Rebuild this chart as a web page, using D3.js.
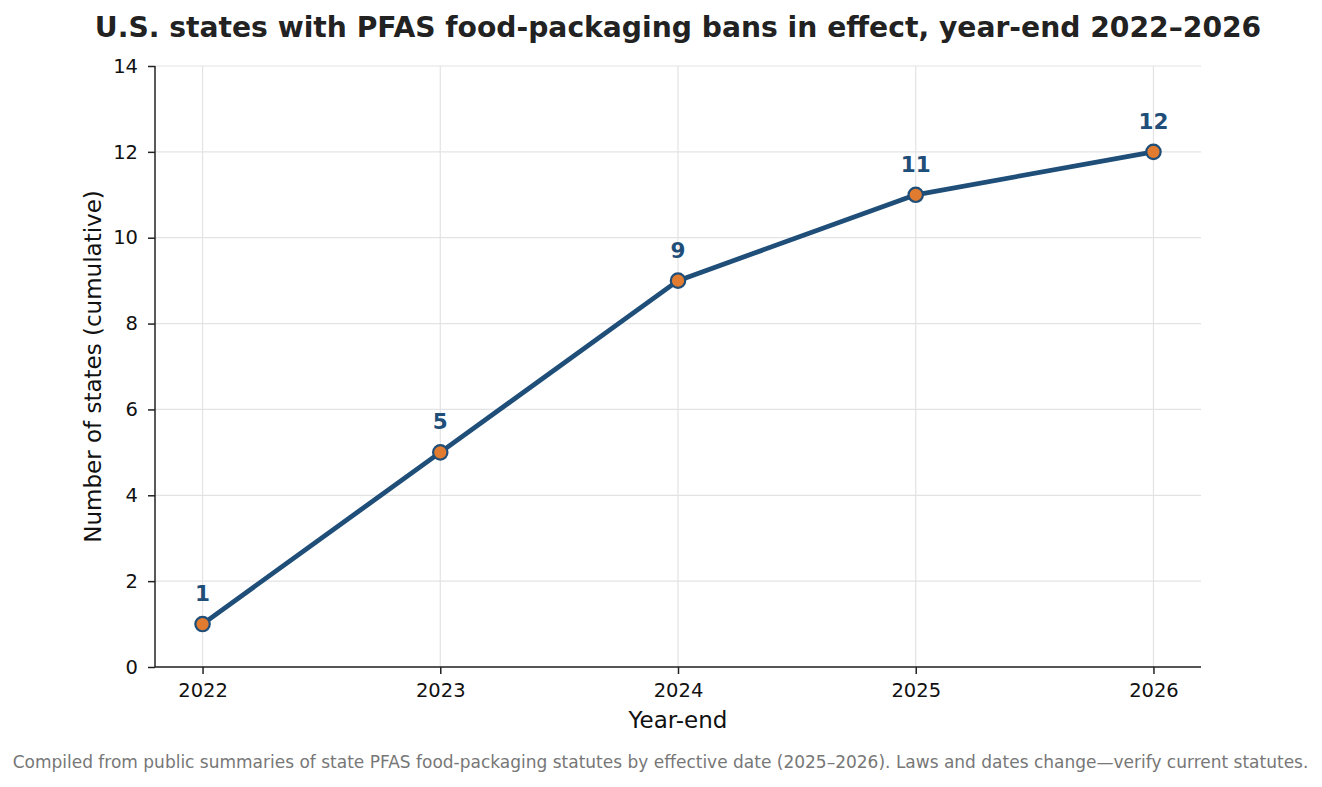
<!DOCTYPE html>
<html>
<head>
<meta charset="utf-8">
<script src="https://cdn.jsdelivr.net/npm/d3@7"></script>
<style>
  body { margin: 0; background: #fff; font-family: "DejaVu Sans", sans-serif; }
</style>
</head>
<body>
<div id="chart"></div>
<script>
// data
const years = [2022, 2023, 2024, 2025, 2026];
const statesCount = [1, 5, 9, 11, 12];
const yTicks = [0, 2, 4, 6, 8, 10, 12, 14];

const titleText = "U.S. states with PFAS food-packaging bans in effect, year-end 2022\u20132026";
const xLabel = "Year-end";
const yLabel = "Number of states (cumulative)";
const caption = "Compiled from public summaries of state PFAS food-packaging statutes by effective date (2025\u20132026). Laws and dates change\u2014verify current statutes.";

const W = 1322, H = 787;
const margin = { top: 66, right: 121, bottom: 120, left: 155 };
const width = W - margin.left - margin.right;
const height = H - margin.top - margin.bottom;

const lineColor = "#1f4e79";
const dotColor = "#e07b30";

const svg = d3.select("#chart").append("svg")
  .attr("width", W).attr("height", H)
  .style("font-family", "'DejaVu Sans', sans-serif");

const g = svg.append("g").attr("transform", `translate(${margin.left},${margin.top})`);

// scales
const x = d3.scaleLinear().domain([2021.8, 2026.2]).range([0, width]);
const y = d3.scaleLinear().domain([0, 14]).range([height, 0]);

// gridlines
g.append("g").selectAll("line.hg").data(yTicks).enter().append("line")
  .attr("x1", 0).attr("x2", width)
  .attr("y1", d => y(d)).attr("y2", d => y(d))
  .attr("stroke", "#e3e3e3").attr("stroke-width", 1.2);
g.append("g").selectAll("line.vg").data(years).enter().append("line")
  .attr("x1", d => x(d)).attr("x2", d => x(d))
  .attr("y1", 0).attr("y2", height)
  .attr("stroke", "#e3e3e3").attr("stroke-width", 1.2);

// axes
const xAxis = g.append("g")
  .attr("transform", `translate(0,${height})`)
  .call(d3.axisBottom(x).tickValues(years).tickFormat(d3.format("d")).tickSize(7).tickPadding(9));
const yAxis = g.append("g")
  .call(d3.axisLeft(y).tickValues(yTicks).tickSize(7).tickPadding(10));

[xAxis, yAxis].forEach(a => {
  a.select(".domain").attr("stroke", "#222").attr("stroke-width", 1.5);
  a.selectAll(".tick line").attr("stroke", "#222").attr("stroke-width", 1.5);
  a.selectAll(".tick text")
    .attr("fill", "#111")
    .style("font-size", "19.5px")
    .style("font-family", "'DejaVu Sans', sans-serif");
});
// plain spines, no outer ticks
yAxis.select(".domain").attr("d", `M0,${height}V0`);
xAxis.select(".domain").attr("d", `M0,0H${width}`);

// line
const line = d3.line().x((d, i) => x(years[i])).y(d => y(d));
g.append("path").datum(statesCount)
  .attr("fill", "none")
  .attr("stroke", lineColor)
  .attr("stroke-width", 4.8)
  .attr("stroke-linejoin", "round")
  .attr("d", line);

// points
g.selectAll("circle.pt").data(statesCount).enter().append("circle")
  .attr("class", "pt")
  .attr("cx", (d, i) => x(years[i]))
  .attr("cy", d => y(d))
  .attr("r", 7.2)
  .attr("fill", dotColor)
  .attr("stroke", lineColor)
  .attr("stroke-width", 2.2);

// value labels
g.selectAll("text.val").data(statesCount).enter().append("text")
  .attr("class", "val")
  .attr("x", (d, i) => x(years[i]))
  .attr("y", d => y(d) - 23)
  .attr("text-anchor", "middle")
  .attr("fill", lineColor)
  .style("font-size", "21.5px")
  .style("font-weight", "bold")
  .text(d => d);

// axis labels
svg.append("text")
  .attr("x", margin.left + width / 2).attr("y", 728)
  .attr("text-anchor", "middle")
  .attr("fill", "#111")
  .style("font-size", "23px")
  .text(xLabel);

svg.append("text")
  .attr("transform", `translate(101,${margin.top + height / 2}) rotate(-90)`)
  .attr("text-anchor", "middle")
  .attr("fill", "#111")
  .style("font-size", "23px")
  .text(yLabel);

// title
svg.append("text")
  .attr("x", 678).attr("y", 37)
  .attr("text-anchor", "middle")
  .attr("fill", "#222")
  .style("font-size", "28.2px")
  .style("font-weight", "bold")
  .text(titleText);

// caption
svg.append("text")
  .attr("x", 660.5).attr("y", 768)
  .attr("text-anchor", "middle")
  .attr("fill", "#777")
  .style("font-size", "17px")
  .text(caption);
</script>
</body>
</html>
